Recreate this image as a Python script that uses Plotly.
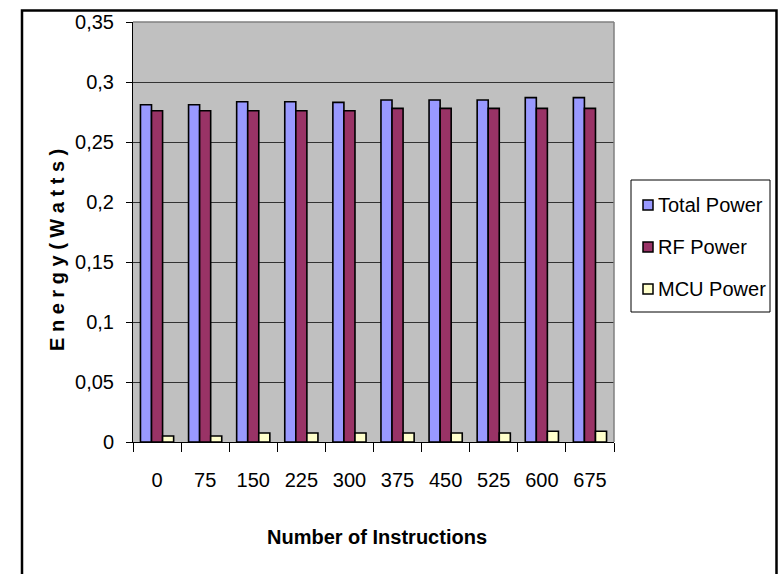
import plotly.graph_objects as go

# Number of executed instructions (category axis)
instructions = ["0", "75", "150", "225", "300", "375", "450", "525", "600", "675"]

# Measured power per configuration (Watts)
total_power = [0.281, 0.281, 0.2835, 0.2835, 0.283, 0.285, 0.285, 0.285, 0.287, 0.287]
rf_power = [0.276, 0.276, 0.276, 0.276, 0.276, 0.278, 0.278, 0.278, 0.278, 0.278]
mcu_power = [0.005, 0.005, 0.0075, 0.0075, 0.0075, 0.0075, 0.0075, 0.0075, 0.009, 0.009]

# Y axis ticks (comma as decimal mark)
y_tickvals = [0, 0.05, 0.1, 0.15, 0.2, 0.25, 0.3, 0.35]
y_ticktext = ["0", "0,05", "0,1", "0,15", "0,2", "0,25", "0,3", "0,35"]

FONT = "Liberation Sans"

series = [
    ("Total Power", total_power, "#9999FF"),
    ("RF Power", rf_power, "#993366"),
    ("MCU Power", mcu_power, "#FFFFCC"),
]

fig = go.Figure()
for name, vals, color in series:
    fig.add_trace(go.Bar(
        x=instructions, y=vals, name=name,
        marker=dict(color=color, line=dict(color="black", width=1.6)),
    ))

# plot-area geometry in pixels
W, H = 778, 574
L, R, T, B = 133, 614, 22, 442
pw, ph = R - L, B - T

def px(x):
    return (x - L) / pw

def py(y):
    return (B - y) / ph

shapes = [
    # gray frame along the top and right of the plot area
    dict(type="line", xref="paper", yref="paper", x0=0, x1=1, y0=1, y1=1,
         line=dict(color="#808080", width=1.5)),
    dict(type="line", xref="paper", yref="paper", x0=1, x1=1, y0=0, y1=1,
         line=dict(color="#808080", width=1.5)),
    # outer chart border
    dict(type="rect", xref="paper", yref="paper",
         x0=px(22), x1=px(776.5), y0=py(600), y1=py(10.5),
         line=dict(color="black", width=2.5), fillcolor="rgba(0,0,0,0)"),
    # legend box
    dict(type="rect", xref="paper", yref="paper",
         x0=px(631), x1=px(770), y0=py(312), y1=py(180),
         line=dict(color="black", width=1), fillcolor="white"),
]

annotations = [
    dict(text="<b>Number of Instructions</b>", x=px(377), y=py(537),
         xref="paper", yref="paper", showarrow=False,
         font=dict(family=FONT, size=20), xanchor="center", yanchor="middle"),
    dict(text="<b>E n e r g y ( W a t t s )</b>", x=px(57), y=py(250),
         xref="paper", yref="paper", showarrow=False, textangle=-90,
         font=dict(family=FONT, size=20),
         xanchor="center", yanchor="middle"),
]

# legend entries: swatch + label
legend_rows = [205, 247, 289]
for (name, _, color), yc in zip(series, legend_rows):
    shapes.append(dict(type="rect", xref="paper", yref="paper",
                       x0=px(643), x1=px(653), y0=py(yc + 5), y1=py(yc - 5),
                       line=dict(color="black", width=1.5), fillcolor=color))
    annotations.append(dict(text=name, x=px(656), y=py(yc), xref="paper", yref="paper",
                            showarrow=False, xanchor="left", yanchor="middle",
                            font=dict(family=FONT, size=20)))

fig.update_layout(
    width=W, height=H,
    margin=dict(l=L, r=W - R, t=T, b=H - B, pad=0),
    paper_bgcolor="white",
    plot_bgcolor="#C0C0C0",
    barmode="group",
    bargap=0.31,
    bargroupgap=0,
    font=dict(family=FONT, size=20, color="black"),
    showlegend=False,
    xaxis=dict(
        type="category",
        showline=True, linecolor="black", linewidth=1,
        ticks="outside", tickson="boundaries", ticklen=9, tickcolor="black",
        ticklabelstandoff=20,
        tickfont=dict(family=FONT, size=20),
        showgrid=False, mirror=False, automargin=False,
    ),
    yaxis=dict(
        range=[0, 0.35],
        tickvals=y_tickvals, ticktext=y_ticktext,
        showline=True, linecolor="black", linewidth=1,
        ticks="outside", ticklen=6, tickcolor="black",
        ticklabelstandoff=8,
        tickfont=dict(family=FONT, size=20),
        showgrid=True, gridcolor="#333333", gridwidth=1,
        zeroline=False, automargin=False,
    ),
    annotations=annotations,
    shapes=shapes,
)

fig.write_html("out.html")
